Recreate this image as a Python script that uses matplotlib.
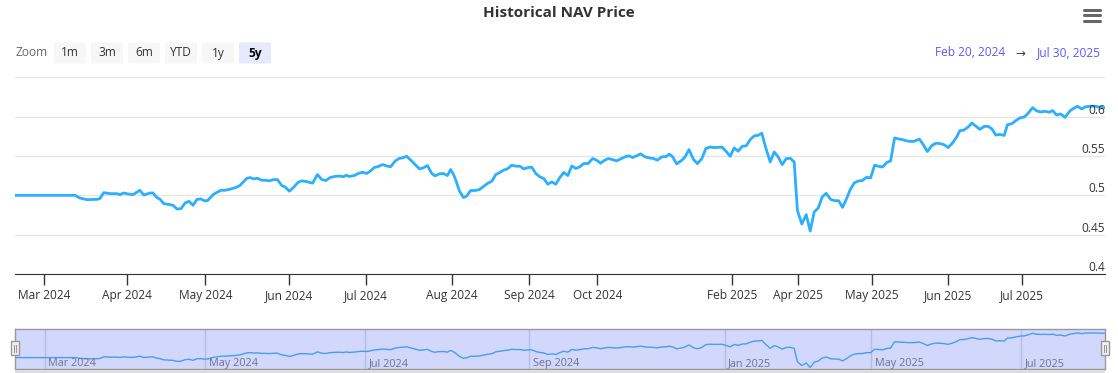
import matplotlib
matplotlib.use("Agg")
import matplotlib.pyplot as plt
import matplotlib.transforms as mtransforms
from matplotlib.patches import FancyBboxPatch, Rectangle

# NAV series on an ordinal (trading-point) axis
pos = [0.0, 15.0, 16.2, 18.0, 20.5, 21.2, 22.2, 23.8, 25.5, 26.2, 27.2, 28.2, 29.5, 31.2, 32.2,
       33.8, 34.5, 35.5, 36.2, 37.2, 38.8, 39.5, 40.5, 41.5, 42.5, 43.5, 44.5, 45.5, 46.5, 47.5,
       48.2, 49.5, 50.2, 51.5, 52.5, 53.8, 55.0, 56.2, 57.9, 58.8, 59.6, 60.6, 61.7, 62.5, 63.6,
       64.6, 65.6, 66.7, 67.5, 68.6, 69.6, 70.8, 71.7, 72.9, 74.4, 75.6, 76.7, 77.7, 78.8, 80.2,
       81.5, 82.1, 82.8, 83.6, 84.8, 85.8, 86.9, 87.9, 88.8, 89.8, 90.8, 91.9, 92.9, 93.9, 95.0,
       96.0, 96.9, 97.9, 99.2, 101.1, 102.1, 103.1, 104.2, 105.0, 106.1, 107.1, 108.1, 108.9, 109.6,
       110.2, 111.1, 112.1, 112.9, 113.9, 115.0, 116.1, 117.1, 118.1, 119.2, 120.2, 121.2, 122.1,
       123.1, 124.2, 125.2, 126.2, 127.2, 128.3, 129.2, 130.2, 131.2, 132.2, 133.2, 134.2, 135.2,
       136.2, 137.2, 138.2, 139.2, 140.2, 141.2, 142.2, 143.3, 144.4, 145.4, 146.4, 147.3, 148.3,
       149.3, 150.4, 151.4, 152.5, 153.5, 154.4, 155.4, 156.4, 157.5, 158.5, 159.6, 160.6, 161.7,
       162.8, 163.6, 164.4, 165.4, 166.7, 167.5, 168.5, 169.6, 170.6, 171.7, 172.7, 173.8, 174.8,
       175.8, 176.8, 177.9, 178.8, 179.8, 180.8, 181.8, 182.8, 183.8, 184.8, 185.8, 186.7, 187.7,
       188.8, 189.8, 190.8, 191.8, 192.8, 193.8, 194.8, 195.6, 196.7, 197.8, 198.8, 199.8, 200.8,
       201.8, 202.8, 203.9, 204.9, 205.9, 206.9, 207.9, 208.8, 209.8, 210.8, 211.8, 212.9, 213.9,
       214.9, 215.9, 216.9, 217.9, 218.9, 219.9, 220.8, 222.1, 223.3, 224.6, 226.1, 227.1, 228.1,
       229.2, 230.2, 231.2, 232.2, 233.3, 234.4, 235.4, 236.2, 237.2, 238.3, 239.2, 240.2, 241.2,
       242.3, 243.3, 244.2, 245.2, 246.2, 247.3, 248.1, 249.2, 250.2, 251.2, 252.3, 253.2, 254.4,
       255.4, 256.4, 257.5, 258.5, 259.4, 260.4, 261.4, 262.5, 263.8, 265.0, 265.6, 266.7, 267.5,
       268.8, 270.0, 271.2, 272.5]
nav = [0.5000, 0.5000, 0.4966, 0.4945, 0.4949, 0.4958, 0.5034, 0.5021, 0.5021, 0.5008, 0.5030,
       0.5017, 0.5008, 0.5064, 0.5004, 0.5030, 0.5030, 0.4970, 0.4953, 0.4894, 0.4881, 0.4873,
       0.4826, 0.4830, 0.4902, 0.4924, 0.4873, 0.4949, 0.4953, 0.4928, 0.4936, 0.5008, 0.5030,
       0.5064, 0.5064, 0.5078, 0.5095, 0.5124, 0.5213, 0.5226, 0.5209, 0.5217, 0.5192, 0.5192,
       0.5184, 0.5200, 0.5200, 0.5124, 0.5107, 0.5052, 0.5099, 0.5167, 0.5184, 0.5175, 0.5154,
       0.5264, 0.5200, 0.5188, 0.5226, 0.5243, 0.5243, 0.5235, 0.5256, 0.5239, 0.5251, 0.5277,
       0.5294, 0.5277, 0.5307, 0.5353, 0.5366, 0.5391, 0.5374, 0.5362, 0.5434, 0.5468, 0.5476,
       0.5497, 0.5434, 0.5336, 0.5349, 0.5379, 0.5277, 0.5247, 0.5273, 0.5277, 0.5251, 0.5328,
       0.5268, 0.5192, 0.5056, 0.4972, 0.4989, 0.5061, 0.5061, 0.5073, 0.5112, 0.5150, 0.5179,
       0.5264, 0.5290, 0.5319, 0.5336, 0.5383, 0.5370, 0.5370, 0.5336, 0.5353, 0.5357, 0.5277,
       0.5235, 0.5213, 0.5141, 0.5171, 0.5141, 0.5226, 0.5290, 0.5251, 0.5374, 0.5341, 0.5362,
       0.5404, 0.5404, 0.5468, 0.5447, 0.5408, 0.5442, 0.5468, 0.5455, 0.5438, 0.5463, 0.5489,
       0.5502, 0.5480, 0.5502, 0.5527, 0.5489, 0.5476, 0.5468, 0.5447, 0.5489, 0.5493, 0.5523,
       0.5490, 0.5400, 0.5445, 0.5488, 0.5581, 0.5458, 0.5403, 0.5466, 0.5594, 0.5615, 0.5606,
       0.5611, 0.5611, 0.5551, 0.5496, 0.5602, 0.5560, 0.5623, 0.5628, 0.5708, 0.5755, 0.5763,
       0.5789, 0.5602, 0.5424, 0.5551, 0.5488, 0.5390, 0.5466, 0.5471, 0.5424, 0.4809, 0.4635,
       0.4754, 0.4546, 0.4788, 0.4839, 0.4979, 0.5025, 0.4949, 0.4932, 0.4932, 0.4847, 0.4958,
       0.5072, 0.5157, 0.5182, 0.5187, 0.5229, 0.5221, 0.5382, 0.5369, 0.5360, 0.5416, 0.5437,
       0.5729, 0.5718, 0.5705, 0.5688, 0.5684, 0.5714, 0.5641, 0.5556, 0.5632, 0.5662, 0.5658,
       0.5645, 0.5607, 0.5667, 0.5739, 0.5821, 0.5829, 0.5868, 0.5919, 0.5880, 0.5838, 0.5876,
       0.5876, 0.5846, 0.5765, 0.5774, 0.5761, 0.5897, 0.5910, 0.5949, 0.5983, 0.5996, 0.6038,
       0.6115, 0.6073, 0.6060, 0.6068, 0.6056, 0.6077, 0.6021, 0.6034, 0.5991, 0.6077, 0.6115,
       0.6132, 0.6098, 0.6124, 0.6132, 0.6132, 0.6120, 0.6115]

tick_pos = [7.3, 28.1, 47.6, 68.6, 87.7, 109.3, 128.6, 145.6, 179.3, 195.7, 214.2, 233.3, 251.7]
tick_labels = ["Mar 2024", "Apr 2024", "May 2024", "Jun 2024", "Jul 2024", "Aug 2024",
               "Sep 2024", "Oct 2024", "Feb 2025", "Apr 2025", "May 2025", "Jun 2025", "Jul 2025"]
nav_tick_pos = [7.4, 47.6, 87.6, 128.6, 177.5, 214.1, 251.6]
nav_tick_labels = ["Mar 2024", "May 2024", "Jul 2024", "Sep 2024", "Jan 2025", "May 2025", "Jul 2025"]
y_ticks = [0.4, 0.45, 0.5, 0.55, 0.6, 0.65]
y_labels = ["0.4", "0.45", "0.5", "0.55", "0.6"]
buttons = ["1m", "3m", "6m", "YTD", "1y", "5y"]

plt.rcParams["font.family"] = ["Open Sans", "DejaVu Sans"]

W, H = 1118, 373
fig = plt.figure(figsize=(W / 100, H / 100), dpi=100)


def fx(x):
    return x / W


def fy(y):
    return 1 - y / H


LINE = "#2caffe"

# main plot
ax = fig.add_axes([fx(15), fy(274), fx(1090), (274 - 77.3) / H])
ax.plot(pos, nav, color=LINE, lw=2, solid_joinstyle="round", zorder=3)
ax.set_xlim(0, 272.5)
ax.set_ylim(0.4, 0.65)
ax.set_yticks(y_ticks)
ax.grid(axis="y", color="#e6e6e6", lw=1)
ax.set_axisbelow(True)
ax.tick_params(axis="y", length=0, labelleft=False)
ax.set_xticks(tick_pos)
ax.set_xticklabels(tick_labels, fontsize=8.6, color="#333333")
ax.tick_params(axis="x", length=8, width=1, color="#333333", pad=3)
for s in ["top", "right", "left"]:
    ax.spines[s].set_visible(False)
ax.spines["bottom"].set_color("#333333")
ax.patch.set_alpha(0)

trans = mtransforms.blended_transform_factory(ax.transAxes, ax.transData)
for v, lab in zip(y_ticks, y_labels):
    ax.text(1.0, v, lab, transform=trans, ha="right", va="bottom", fontsize=8.6,
            color="#333333", zorder=4)

# navigator
nax = fig.add_axes([fx(15), fy(369), fx(1090), 40 / H])
nax.set_facecolor("#d2d8fb")
nax.plot(pos, nav, color="#4a9cf0", lw=1)
nax.set_xlim(0, 272.5)
nax.set_ylim(min(nav) - 0.007, max(nav) + 0.018)
nax.set_xticks([])
nax.set_yticks([])
for p in nav_tick_pos:
    nax.axvline(p, color="#b5bce6", lw=1, zorder=0)
ntrans = mtransforms.blended_transform_factory(nax.transData, nax.transAxes)
for p, lab in zip(nav_tick_pos, nav_tick_labels):
    nax.text(p + 0.8, 0.13, lab, transform=ntrans, ha="left", va="center",
             fontsize=7.8, color="#6d7192")
for s in nax.spines.values():
    s.set_color("#999999")
    s.set_linewidth(1)

# navigator handles
for hx in (15, 1105):
    fig.patches.append(Rectangle((fx(hx - 4), fy(355)), fx(8), 14 / H, transform=fig.transFigure,
                                 facecolor="#f2f2f2", edgecolor="#999999", lw=1, zorder=5))
    for dx in (-1.3, 1.3):
        fig.lines.append(plt.Line2D([fx(hx + dx), fx(hx + dx)], [fy(352), fy(345)],
                                    transform=fig.transFigure, color="#999999", lw=0.8, zorder=6))
# scrollbar strip
fig.patches.append(Rectangle((fx(15), 0), fx(1090), 3 / H, transform=fig.transFigure,
                             facecolor="#dddddd", edgecolor="none"))

# title
fig.text(0.5, fy(13), "Historical NAV Price", ha="center", va="center", fontsize=11,
         fontweight="bold", color="#333333")

# hamburger menu
for yy in (10, 15.3, 20.6):
    fig.lines.append(plt.Line2D([fx(1084), fx(1100)], [fy(yy), fy(yy)], transform=fig.transFigure,
                                color="#666666", lw=2.2, solid_capstyle="round"))

# range selector buttons
fig.text(fx(15), fy(53), "Zoom", ha="left", va="center", fontsize=8.6, color="#666666")
for i, b in enumerate(buttons):
    cx = 70 + i * 37
    sel = b == "5y"
    fig.patches.append(FancyBboxPatch((fx(cx - 16), fy(63.5)), fx(32), 21 / H,
                                      boxstyle="round,pad=0,rounding_size=0.002",
                                      transform=fig.transFigure,
                                      facecolor="#e6e9ff" if sel else "#f7f7f7", edgecolor="none"))
    fig.text(fx(cx), fy(53), b, ha="center", va="center", fontsize=8.6,
             color="#000000" if sel else "#333333", fontweight="bold" if sel else "normal")

# date range inputs
fig.text(fx(1005), fy(53), "Feb 20, 2024", ha="right", va="center", fontsize=8.6, color="#5a5af5")
fig.text(fx(1020), fy(53), "\u2192", ha="center", va="center", fontsize=8.6, color="#444444")
fig.text(fx(1101), fy(53), "Jul 30, 2025", ha="right", va="center", fontsize=8.6, color="#5a5af5")

fig.savefig("out.png", dpi=100)
